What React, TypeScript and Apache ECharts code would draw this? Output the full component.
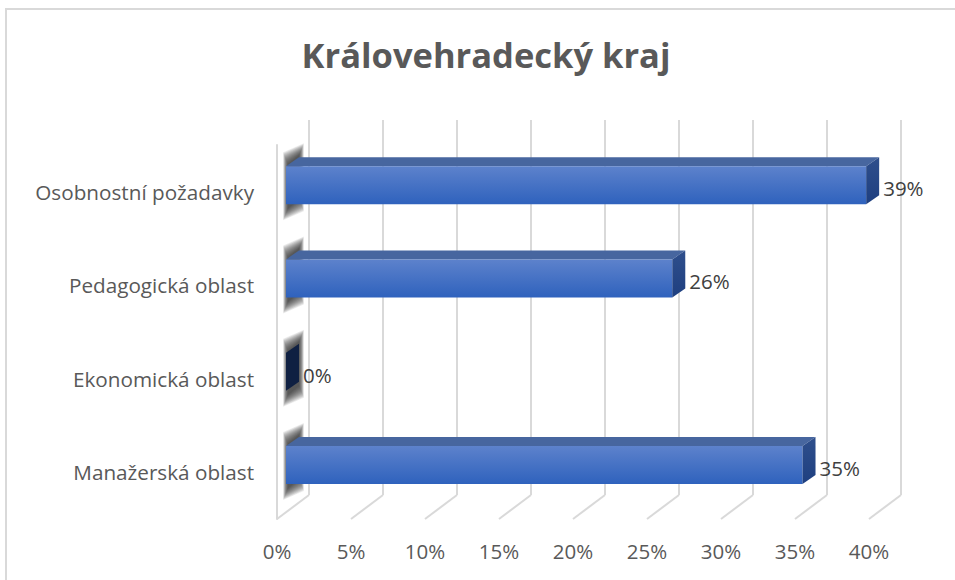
import React, { useEffect, useRef } from "react";
import * as echarts from "echarts";

const TITLE = "Královehradecký kraj";
const categories = ["Osobnostní požadavky", "Pedagogická oblast", "Ekonomická oblast", "Manažerská oblast"];
const values = [39.2, 26.1, 0, 34.9];
const shownLabels = ["39%", "26%", "0%", "35%"];
const axisTicks = [0, 5, 10, 15, 20, 25, 30, 35, 40];

const FONT = "'Open Sans', 'Noto Sans', sans-serif";
const GRID = "#d9d9d9";
const DEPTH_X = 13;
const DEPTH_Y = 9;
const BAR_H = 38;
const SHADOW_LAYERS = 16;

function barItem(params: any, api: any) {
  const i = params.dataIndex;
  const val = api.value(0);
  const cat = api.value(1);
  const start = api.coord([0, cat]);
  const end = api.coord([val, cat]);
  const x0 = start[0];
  const x1 = end[0];
  const top = start[1] - BAR_H / 2;
  const bot = start[1] + BAR_H / 2;
  const children: any[] = [];
  for (let k = SHADOW_LAYERS; k >= 0; k--) {
    const ey = k * 0.75;
    const ex = k * 0.3;
    children.push({
      type: "polygon",
      shape: {
        points: [
          [x0 + 2 - ex, top - 2 - ey],
          [x0 + DEPTH_X + ex, top - DEPTH_Y - 2 - ey],
          [x0 + DEPTH_X + ex, bot - DEPTH_Y + 4 + ey],
          [x0 + 2 - ex, bot + 4 + ey],
        ],
      },
      style: { fill: "rgba(50,50,50,0.085)" },
    });
  }
  if (val > 0) {
    children.push(
      {
        type: "polygon",
        shape: {
          points: [
            [x0, top],
            [x0 + DEPTH_X, top - DEPTH_Y],
            [x1 + DEPTH_X, top - DEPTH_Y],
            [x1, top],
          ],
        },
        style: { fill: "#47669f" },
      },
      {
        type: "rect",
        shape: { x: x0, y: top, width: x1 - x0, height: BAR_H },
        style: {
          fill: new echarts.graphic.LinearGradient(0, 0, 0, 1, [
            { offset: 0, color: "#5d82cc" },
            { offset: 1, color: "#2f62bd" },
          ]),
        },
      },
    );
  }
  children.push({
    type: "polygon",
    shape: {
      points: [
        [x1, top],
        [x1 + DEPTH_X, top - DEPTH_Y],
        [x1 + DEPTH_X, bot - DEPTH_Y],
        [x1, bot],
      ],
    },
    style:
      val > 0
        ? {
            fill: new echarts.graphic.LinearGradient(0, 0, 0, 1, [
              { offset: 0, color: "#2f4f8c" },
              { offset: 1, color: "#1e3f80" },
            ]),
          }
        : { fill: "#0f2042" },
  });
  children.push({
    type: "text",
    style: {
      x: x1 + 17,
      y: start[1] + 3,
      text: shownLabels[i],
      fill: "#404040",
      font: `20.5px ${FONT}`,
      align: "left",
      verticalAlign: "middle",
    },
  });
  return { type: "group", children };
}

function floorItem(params: any, api: any) {
  const p = api.coord([api.value(0), 0]);
  const cs = params.coordSys;
  const y = cs.y + cs.height;
  return {
    type: "line",
    shape: { x1: p[0], y1: y, x2: p[0] + 32, y2: y - 24 },
    style: { stroke: GRID, lineWidth: 2 },
  };
}

export default function App() {
  const ref = useRef<HTMLDivElement>(null);
  useEffect(() => {
    const chart = echarts.init(ref.current!, null, { renderer: "svg" });
    chart.setOption({
      animation: false,
      backgroundColor: "#ffffff",
      title: {
        text: TITLE,
        left: 481,
        top: 32,
        textAlign: "center",
        textStyle: { fontFamily: FONT, fontSize: 34.5, fontWeight: "bold", color: "#595959" },
      },
      graphic: [
        {
          type: "polyline",
          shape: { points: [[6, 580], [6, 9], [955, 9]] },
          style: { fill: "none", stroke: GRID, lineWidth: 2 },
          silent: true,
        },
      ],
      grid: [
        { left: 277, width: 592, top: 145, height: 374 },
        { left: 309, width: 592, top: 120, height: 375 },
        { left: 286, width: 592, top: 138.5, height: 373 },
      ],
      xAxis: [
        {
          gridIndex: 0,
          type: "value",
          min: 0,
          max: 40,
          interval: 5,
          position: "bottom",
          axisLine: { show: false },
          axisTick: { show: false },
          splitLine: { show: false },
          axisLabel: { formatter: "{value}%", fontFamily: FONT, fontSize: 20.5, color: "#595959", margin: 21 },
        },
        {
          gridIndex: 1,
          type: "value",
          min: 0,
          max: 40,
          interval: 5,
          axisLine: { show: false },
          axisTick: { show: false },
          axisLabel: { show: false },
          splitLine: { show: true, lineStyle: { color: GRID, width: 2 } },
        },
        {
          gridIndex: 2,
          type: "value",
          min: 0,
          max: 40,
          interval: 5,
          show: false,
        },
      ],
      yAxis: [
        {
          gridIndex: 0,
          type: "category",
          data: categories,
          inverse: true,
          axisLine: { show: true, lineStyle: { color: GRID, width: 2 } },
          axisTick: { show: false },
          axisLabel: { fontFamily: FONT, fontSize: 20.7, color: "#595959", margin: 23 },
        },
        { gridIndex: 1, type: "category", data: categories, inverse: true, show: false },
        { gridIndex: 2, type: "category", data: categories, inverse: true, show: false },
      ],
      series: [
        {
          type: "custom",
          xAxisIndex: 0,
          yAxisIndex: 0,
          data: axisTicks.map((t) => [t, 0]),
          encode: { x: 0, y: 1 },
          renderItem: floorItem,
          silent: true,
          z: 1,
        },
        {
          type: "custom",
          xAxisIndex: 2,
          yAxisIndex: 2,
          data: values.map((v, i) => [v, i]),
          encode: { x: 0, y: 1 },
          renderItem: barItem,
          clip: false,
          silent: true,
          z: 3,
        },
      ],
    });
    return () => chart.dispose();
  }, []);
  return <div ref={ref} style={{ position: "absolute", left: 0, top: 0, width: 955, height: 580 }} />;
}
